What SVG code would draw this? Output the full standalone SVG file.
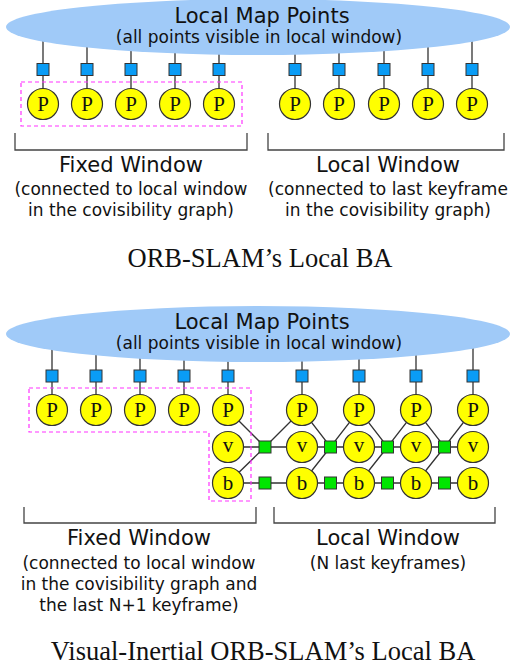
<svg xmlns="http://www.w3.org/2000/svg" width="510" height="669" viewBox="0 0 510 669">
<defs>
<style>
.map{fill:#a0caf8;stroke:none}
.edge{stroke:#333;stroke-width:1.3;fill:none}
.obs{fill:#0a9cf5;stroke:#333;stroke-width:1}
.imu{fill:#00e600;stroke:#333;stroke-width:1}
.node{fill:#ffff00;stroke:#333;stroke-width:1.2}
.lbl{font-family:"Liberation Serif",serif;font-size:21px;fill:#111;text-anchor:middle}
.t1{font-family:"DejaVu Sans",sans-serif;font-size:21px;fill:#111;text-anchor:middle}
.t2{font-family:"DejaVu Sans",sans-serif;font-size:17px;fill:#111;text-anchor:middle}
.cap{font-family:"Liberation Serif",serif;font-size:26.5px;fill:#111;text-anchor:middle}
.win{fill:none;stroke:#ff33ff;stroke-width:1.2;stroke-dasharray:4,3}
.br{fill:none;stroke:#444;stroke-width:1.3}
</style>
</defs>
<rect width="510" height="669" fill="#fff"/>

<!-- ===== Top diagram ===== -->
<g id="top-connectors">
<path class="edge" d="M43,40V104M87,40V104M131,40V104M175,40V104M219,40V104M295,40V104M339,40V104M384,40V104M428,40V104M472,40V104"/>
</g>
<g id="top-map">
<ellipse class="map" cx="258" cy="27" rx="252" ry="28"/>
<text class="t1" x="262" y="23">Local Map Points</text>
<text class="t2" x="259" y="43">(all points visible in local window)</text>
</g>
<g id="top-obs">
<rect class="obs" x="37" y="63.5" width="12" height="12"/>
<rect class="obs" x="81" y="63.5" width="12" height="12"/>
<rect class="obs" x="125" y="63.5" width="12" height="12"/>
<rect class="obs" x="169" y="63.5" width="12" height="12"/>
<rect class="obs" x="213" y="63.5" width="12" height="12"/>
<rect class="obs" x="289" y="63.5" width="12" height="12"/>
<rect class="obs" x="333" y="63.5" width="12" height="12"/>
<rect class="obs" x="378" y="63.5" width="12" height="12"/>
<rect class="obs" x="422" y="63.5" width="12" height="12"/>
<rect class="obs" x="466" y="63.5" width="12" height="12"/>
</g>
<g id="top-P1"><circle class="node" cx="43" cy="104" r="15.5"/><text class="lbl" x="43" y="111">P</text></g>
<g id="top-P2"><circle class="node" cx="87" cy="104" r="15.5"/><text class="lbl" x="87" y="111">P</text></g>
<g id="top-P3"><circle class="node" cx="131" cy="104" r="15.5"/><text class="lbl" x="131" y="111">P</text></g>
<g id="top-P4"><circle class="node" cx="175" cy="104" r="15.5"/><text class="lbl" x="175" y="111">P</text></g>
<g id="top-P5"><circle class="node" cx="219" cy="104" r="15.5"/><text class="lbl" x="219" y="111">P</text></g>
<g id="top-P6"><circle class="node" cx="295" cy="104" r="15.5"/><text class="lbl" x="295" y="111">P</text></g>
<g id="top-P7"><circle class="node" cx="339" cy="104" r="15.5"/><text class="lbl" x="339" y="111">P</text></g>
<g id="top-P8"><circle class="node" cx="384" cy="104" r="15.5"/><text class="lbl" x="384" y="111">P</text></g>
<g id="top-P9"><circle class="node" cx="428" cy="104" r="15.5"/><text class="lbl" x="428" y="111">P</text></g>
<g id="top-P10"><circle class="node" cx="472" cy="104" r="15.5"/><text class="lbl" x="472" y="111">P</text></g>
<rect class="win" x="21" y="82" width="221" height="44"/>
<g id="top-fixed">
<path class="br" d="M15,133V150H247V133"/>
<text class="t1" x="131" y="172">Fixed Window</text>
<text class="t2" x="131" y="195">(connected to local window</text>
<text class="t2" x="131" y="216">in the covisibility graph)</text>
</g>
<g id="top-local">
<path class="br" d="M268,133V150H504V133"/>
<text class="t1" x="388" y="172">Local Window</text>
<text class="t2" x="388" y="195">(connected to last keyframe</text>
<text class="t2" x="388" y="216">in the covisibility graph)</text>
</g>
<text class="cap" x="260" y="267">ORB-SLAM’s Local BA</text>

<!-- ===== Bottom diagram ===== -->
<g id="bottom-connectors">
<path class="edge" d="M52,345V410M96,345V410M140,345V410M184,345V410M228,345V410M302,345V410M359,345V410M416,345V410M473,345V410"/>
<path class="edge" d="M228,447H473M228,483H473"/>
<path class="edge" d="M228,410L265,447L302,410L330.5,447L359,410L387.5,447L416,410L444.5,447L473,410"/>
<path class="edge" d="M228,483L265,447M302,483L330.5,447M359,483L387.5,447M416,483L444.5,447"/>
</g>
<g id="bottom-map">
<ellipse class="map" cx="258" cy="334" rx="252" ry="28"/>
<text class="t1" x="262" y="329">Local Map Points</text>
<text class="t2" x="259" y="349">(all points visible in local window)</text>
</g>
<g id="bottom-obs">
<rect class="obs" x="46" y="370" width="12" height="12"/>
<rect class="obs" x="90" y="370" width="12" height="12"/>
<rect class="obs" x="134" y="370" width="12" height="12"/>
<rect class="obs" x="178" y="370" width="12" height="12"/>
<rect class="obs" x="222" y="370" width="12" height="12"/>
<rect class="obs" x="296" y="370" width="12" height="12"/>
<rect class="obs" x="353" y="370" width="12" height="12"/>
<rect class="obs" x="410" y="370" width="12" height="12"/>
<rect class="obs" x="467" y="370" width="12" height="12"/>
</g>
<g id="bottom-imu">
<rect class="imu" x="259" y="441" width="12" height="12"/>
<rect class="imu" x="324.5" y="441" width="12" height="12"/>
<rect class="imu" x="381.5" y="441" width="12" height="12"/>
<rect class="imu" x="438.5" y="441" width="12" height="12"/>
<rect class="imu" x="259" y="477" width="12" height="12"/>
<rect class="imu" x="324.5" y="477" width="12" height="12"/>
<rect class="imu" x="381.5" y="477" width="12" height="12"/>
<rect class="imu" x="438.5" y="477" width="12" height="12"/>
</g>
<g id="bP1"><circle class="node" cx="52" cy="410" r="15.5"/><text class="lbl" x="52" y="417">P</text></g>
<g id="bP2"><circle class="node" cx="96" cy="410" r="15.5"/><text class="lbl" x="96" y="417">P</text></g>
<g id="bP3"><circle class="node" cx="140" cy="410" r="15.5"/><text class="lbl" x="140" y="417">P</text></g>
<g id="bP4"><circle class="node" cx="184" cy="410" r="15.5"/><text class="lbl" x="184" y="417">P</text></g>
<g id="bP5"><circle class="node" cx="228" cy="410" r="15.5"/><text class="lbl" x="228" y="417">P</text></g>
<g id="bP6"><circle class="node" cx="302" cy="410" r="15.5"/><text class="lbl" x="302" y="417">P</text></g>
<g id="bP7"><circle class="node" cx="359" cy="410" r="15.5"/><text class="lbl" x="359" y="417">P</text></g>
<g id="bP8"><circle class="node" cx="416" cy="410" r="15.5"/><text class="lbl" x="416" y="417">P</text></g>
<g id="bP9"><circle class="node" cx="473" cy="410" r="15.5"/><text class="lbl" x="473" y="417">P</text></g>
<g id="bv5"><circle class="node" cx="228" cy="447" r="15.5"/><text class="lbl" x="228" y="452">v</text></g>
<g id="bv6"><circle class="node" cx="302" cy="447" r="15.5"/><text class="lbl" x="302" y="452">v</text></g>
<g id="bv7"><circle class="node" cx="359" cy="447" r="15.5"/><text class="lbl" x="359" y="452">v</text></g>
<g id="bv8"><circle class="node" cx="416" cy="447" r="15.5"/><text class="lbl" x="416" y="452">v</text></g>
<g id="bv9"><circle class="node" cx="473" cy="447" r="15.5"/><text class="lbl" x="473" y="452">v</text></g>
<g id="bb5"><circle class="node" cx="228" cy="483" r="15.5"/><text class="lbl" x="228" y="490">b</text></g>
<g id="bb6"><circle class="node" cx="302" cy="483" r="15.5"/><text class="lbl" x="302" y="490">b</text></g>
<g id="bb7"><circle class="node" cx="359" cy="483" r="15.5"/><text class="lbl" x="359" y="490">b</text></g>
<g id="bb8"><circle class="node" cx="416" cy="483" r="15.5"/><text class="lbl" x="416" y="490">b</text></g>
<g id="bb9"><circle class="node" cx="473" cy="483" r="15.5"/><text class="lbl" x="473" y="490">b</text></g>
<path class="win" d="M29,388H251V501H209V432H29Z"/>
<g id="bottom-fixed">
<path class="br" d="M24,507V523H256V507"/>
<text class="t1" x="139" y="545">Fixed Window</text>
<text class="t2" x="139" y="569">(connected to local window</text>
<text class="t2" x="139" y="590">in the covisibility graph and</text>
<text class="t2" x="139" y="611">the last N+1 keyframe)</text>
</g>
<g id="bottom-local">
<path class="br" d="M274,507V523H495V507"/>
<text class="t1" x="388" y="545">Local Window</text>
<text class="t2" x="388" y="569">(N last keyframes)</text>
</g>
<text class="cap" x="263" y="660">Visual-Inertial ORB-SLAM’s Local BA</text>
</svg>
